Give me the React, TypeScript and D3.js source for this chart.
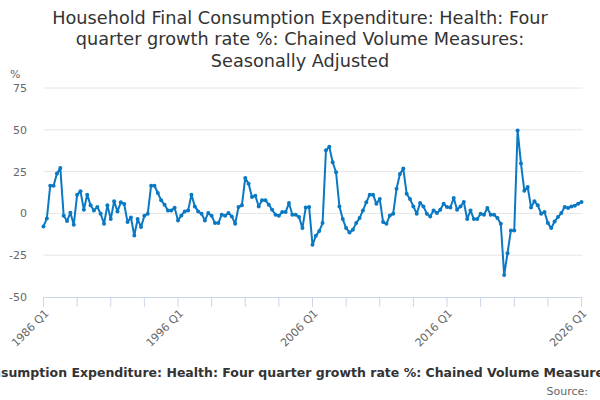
import React, { useEffect, useRef } from 'react';
import * as d3 from 'd3';

const titleLines = [
  'Household Final Consumption Expenditure: Health: Four',
  'quarter growth rate %: Chained Volume Measures:',
  'Seasonally Adjusted',
];
const seriesName =
  'Household Final Consumption Expenditure: Health: Four quarter growth rate %: Chained Volume Measures: Seasonally Adjusted';

const firstYear = 1986;
const quarters: string[] = d3.range(161).map(i => `${firstYear + Math.floor(i / 4)} Q${(i % 4) + 1}`);

// four quarter growth rate %, 1986 Q1 .. 2026 Q1
const values: number[] = [
  -7.8, -3.0, 16.6, 16.6, 23.8, 27.2, -1.4, -4.6, 0.4, -6.8,
  11.2, 13.2, 2.2, 11.2, 4.8, 1.8, 3.8, -0.2, -6.2, 4.8,
  -3.4, 7.2, 1.2, 6.6, 5.6, -5.2, -2.4, -13.2, -3.4, -8.2,
  -1.4, -0.2, 16.6, 16.6, 12.2, 7.8, 5.2, 1.8, 1.8, 3.4,
  -4.2, -1.2, 1.2, 1.8, 11.2, 4.2, 1.2, -0.2, -4.2, 0.2,
  -1.4, -5.8, -5.8, -0.8, -1.4, 0.2, -1.8, -6.2, 3.8, 4.8,
  21.2, 17.8, 9.8, 10.6, 4.2, 7.8, 7.8, 5.2, 2.2, -0.8,
  -1.4, 0.8, 0.8, 6.2, -0.8, -0.8, -2.2, -8.8, 3.6, 3.8,
  -18.8, -13.4, -10.6, -5.8, 37.8, 39.8, 30.6, 24.6, 4.2, -3.4,
  -8.8, -11.4, -9.8, -5.8, -2.8, 1.8, 6.6, 11.2, 11.2, 5.8,
  8.6, -5.2, -6.2, -1.2, -0.2, 14.8, 23.6, 26.8, 11.8, 8.6,
  4.2, -0.2, 6.2, 4.2, -0.2, -1.8, 1.8, 0.2, 2.2, 5.8,
  3.8, 3.6, 9.2, 2.2, 4.2, 6.8, -3.4, 1.8, -3.4, -3.4,
  -0.2, -0.8, 3.2, -0.8, -0.8, -2.8, -6.2, -36.8, -23.8, -10.2,
  -10.2, 49.6, 29.8, 13.6, 15.8, 3.6, 7.2, 4.8, -0.2, 0.8,
  -5.8, -8.8, -4.8, -2.2, 0.2, 3.8, 3.2, 4.2, 4.6, 5.8,
  6.8,
];

const yTicks = [-50, -25, 0, 25, 50, 75];

export default function App() {
  const svgRef = useRef<SVGSVGElement>(null);

  useEffect(() => {
    if (!svgRef.current) return;
    const svg = d3.select(svgRef.current);
    svg.selectAll('*').remove();

    const font = '"DejaVu Sans", Verdana, sans-serif';
    const left = 43.5, right = 581.5, top = 88, bottom = 297;

    const x = d3.scalePoint<string>().domain(quarters).range([left, right]);
    const y = d3.scaleLinear().domain([-50, 75]).range([bottom, top]);

    // Title
    svg.append('g').selectAll('text').data(titleLines).join('text')
      .attr('x', 300).attr('y', (_, i) => 23.5 + i * 21.5)
      .attr('text-anchor', 'middle').attr('font-family', font)
      .attr('font-size', '17.7px').attr('fill', '#333')
      .text(d => d);

    // Grid lines
    svg.append('g').selectAll('line').data(yTicks.filter(t => t !== -50)).join('line')
      .attr('x1', left).attr('x2', right + 1)
      .attr('y1', d => y(d)).attr('y2', d => y(d))
      .attr('stroke', '#e6e6e6').attr('stroke-width', 1);

    // Y labels
    svg.append('g').selectAll('text').data(yTicks).join('text')
      .attr('x', 27).attr('y', d => y(d) + 4)
      .attr('text-anchor', 'end').attr('font-family', font)
      .attr('font-size', '11px').attr('fill', '#666')
      .text(d => d);
    svg.append('text').attr('x', 10).attr('y', 78)
      .attr('font-family', font).attr('font-size', '11px').attr('fill', '#666')
      .text('%');

    // X axis
    svg.append('line').attr('x1', left).attr('x2', right + 1)
      .attr('y1', bottom + 0.5).attr('y2', bottom + 0.5)
      .attr('stroke', '#ccd6eb').attr('stroke-width', 1);
    const tickQ = quarters.filter((_, i) => i % 10 === 0);
    svg.append('g').selectAll('line').data(tickQ).join('line')
      .attr('x1', d => x(d)!).attr('x2', d => x(d)!)
      .attr('y1', bottom).attr('y2', bottom + 10)
      .attr('stroke', '#ccd6eb').attr('stroke-width', 1);
    const labelQ = quarters.filter((_, i) => i % 40 === 0);
    svg.append('g').selectAll('text').data(labelQ).join('text')
      .attr('transform', d => `translate(${x(d)! + 6},${bottom + 17}) rotate(-45)`)
      .attr('text-anchor', 'end').attr('font-family', font)
      .attr('font-size', '11px').attr('fill', '#666')
      .text(d => d);

    // Series
    const pts = values.map((v, i) => [x(quarters[i])!, y(v)] as [number, number]);
    svg.append('path').datum(pts)
      .attr('d', d3.line())
      .attr('fill', 'none').attr('stroke', '#0a78c2')
      .attr('stroke-width', 2).attr('stroke-linejoin', 'round');
    svg.append('g').selectAll('circle').data(pts).join('circle')
      .attr('cx', d => d[0]).attr('cy', d => d[1]).attr('r', 2)
      .attr('fill', '#0a78c2');

    // Legend (overflows the frame on both sides, as in the source chart)
    const legendSize = '12.5px';
    const legend = svg.append('text').attr('y', 377)
      .attr('font-family', font)
      .attr('font-size', legendSize).attr('font-weight', 'bold').attr('fill', '#333')
      .text(seriesName);
    const probe = svg.append('text')
      .attr('font-family', font)
      .attr('font-size', legendSize).attr('font-weight', 'bold')
      .text('Household Final Con');
    const cut = (probe.node() as SVGTextElement).getComputedTextLength();
    probe.remove();
    legend.attr('x', 1 - cut);

    svg.append('text').attr('x', 588).attr('y', 395)
      .attr('text-anchor', 'end').attr('font-family', font)
      .attr('font-size', '11px').attr('fill', '#666')
      .text('Source:');
  }, []);

  return (
    <svg
      ref={svgRef}
      width={600}
      height={400}
      style={{ position: 'absolute', left: 0, top: 0, background: '#fff' }}
    />
  );
}
